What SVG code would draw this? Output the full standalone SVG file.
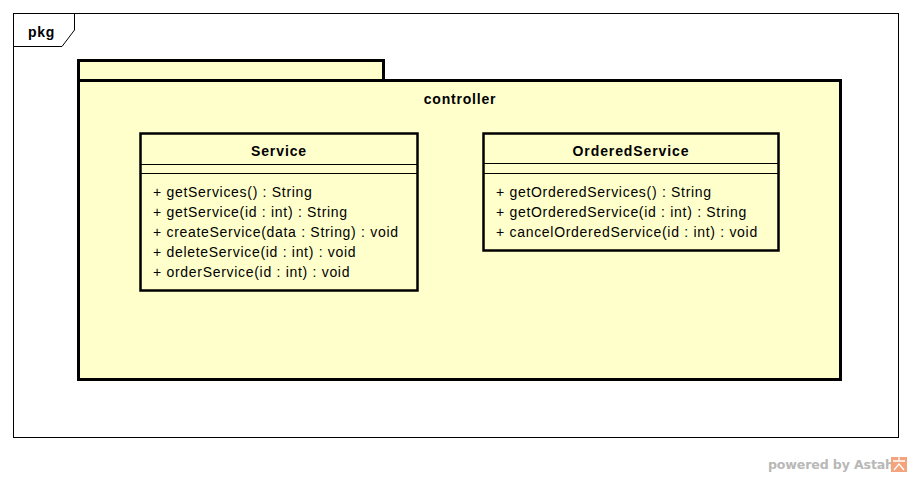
<svg xmlns="http://www.w3.org/2000/svg" width="912" height="477" viewBox="0 0 912 477">
<style>
.frame{fill:#fff;stroke:#000;stroke-width:1}
.pkg{fill:#ffffcc;stroke:#000;stroke-width:3}
.cls{fill:#ffffcc;stroke:#000;stroke-width:2.5}
.sep{stroke:#000;stroke-width:1;fill:none}
text{font-family:"Liberation Sans",Arial,sans-serif;font-size:14px;fill:#000;letter-spacing:0.7px}
.b{font-weight:bold;letter-spacing:0.9px}
.c{text-anchor:middle}
.wm{font-family:"DejaVu Sans","Liberation Sans",sans-serif;font-size:12.6px;font-weight:bold;fill:#b8b8b8;letter-spacing:-0.15px}
</style>
<rect width="912" height="477" fill="#fff"/>
<g id="frame">
<rect class="frame" x="13.5" y="13.5" width="885" height="424"/>
<path class="sep" d="M13.5 46.5 H62 L74.5 30 V13.5"/>
<text class="b" x="28" y="37" style="letter-spacing:0.7px">pkg</text>
</g>
<g id="controller">
<rect class="pkg" x="78.5" y="60.5" width="305" height="20"/>
<rect class="pkg" x="78.5" y="80.5" width="762" height="299"/>
<text class="b c" x="460" y="104" style="letter-spacing:0.8px">controller</text>
</g>
<g id="Service">
<rect class="cls" x="140.5" y="133.5" width="277" height="157"/>
<line class="sep" x1="140.5" y1="164.5" x2="417.5" y2="164.5"/>
<line class="sep" x1="140.5" y1="173.5" x2="417.5" y2="173.5"/>
<text class="b c" x="279" y="156">Service</text>
<text x="153" y="197">+ getServices() : String</text>
<text x="153" y="217">+ getService(id : int) : String</text>
<text x="153" y="237">+ createService(data : String) : void</text>
<text x="153" y="257">+ deleteService(id : int) : void</text>
<text x="153" y="277">+ orderService(id : int) : void</text>
</g>
<g id="OrderedService">
<rect class="cls" x="483.5" y="133.5" width="295" height="117"/>
<line class="sep" x1="483.5" y1="163.5" x2="778.5" y2="163.5"/>
<line class="sep" x1="483.5" y1="173.5" x2="778.5" y2="173.5"/>
<text class="b c" x="631" y="156">OrderedService</text>
<text x="496" y="197">+ getOrderedServices() : String</text>
<text x="496" y="217">+ getOrderedService(id : int) : String</text>
<text x="496" y="237">+ cancelOrderedService(id : int) : void</text>
</g>
<g id="connectors"></g>
<g id="watermark">
<text class="wm" x="768" y="469">powered by Astah</text>
<rect x="891" y="457" width="16" height="15" fill="#f4a47c"/>
<path d="M893 461 H905 M899 457 V461 M894 470 L899 464 L904 470" stroke="#fff" stroke-width="1.3" fill="none"/>
</g>
</svg>
